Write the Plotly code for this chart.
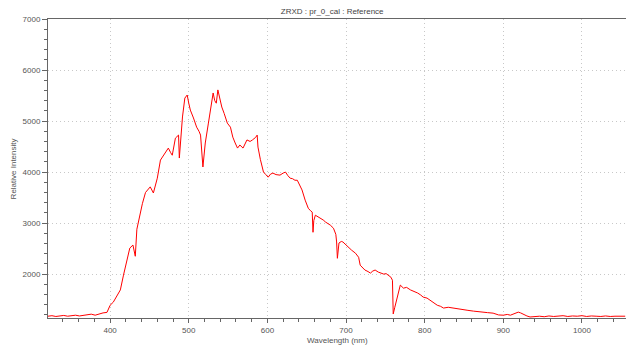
import plotly.graph_objects as go

title_text = "ZRXD : pr_0_cal : Reference"
x_title = "Wavelength (nm)"
y_title = "Relative Intensity"

wavelength = [
    321, 326, 331, 336, 341, 346, 351, 356, 361, 366,
    371, 376, 381, 386, 391, 396, 400, 404, 408, 413,
    417, 421, 425, 429, 432, 434, 438, 441, 445, 448,
    451, 455, 458, 460, 464, 467, 470, 474, 477, 479,
    483, 487, 488, 490, 492, 495, 498, 500, 502, 506,
    510, 513, 515, 518, 521, 525, 527, 531, 533, 535,
    537, 540, 542, 545, 549, 553, 556, 559, 562, 565,
    569, 574, 578, 581, 585, 587, 588, 591, 593, 595,
    598, 601, 604, 607, 611, 616, 620, 623, 626, 629,
    632, 635, 638, 642, 644, 648, 652, 655, 657, 658,
    659, 661, 664, 667, 671, 674, 677, 680, 684, 687,
    688, 689, 691, 694, 696, 700, 703, 707, 712, 716,
    718, 721, 724, 728, 731, 734, 737, 741, 744, 748,
    751, 754, 757, 759, 760, 762, 764, 767, 769, 773,
    777, 782, 786, 791, 795, 798, 803, 807, 811, 816,
    820, 824, 830, 836, 842, 849, 855, 862, 868, 874,
    880, 887, 894, 900, 905, 909, 914, 919, 922, 925,
    930, 934, 940, 946, 952, 958, 964, 970, 976, 982,
    988, 994, 1000, 1006, 1012, 1018, 1024, 1030, 1036, 1042,
    1048, 1055,
]

intensity = [
    1175, 1185, 1170, 1180, 1190, 1175, 1185, 1195, 1180, 1190,
    1200, 1215, 1195, 1225, 1240, 1250, 1390, 1450, 1560, 1690,
    1980, 2275, 2510, 2570, 2350, 2880, 3210, 3380, 3600, 3660,
    3710, 3590, 3800, 3880, 4235, 4300, 4390, 4470, 4380, 4330,
    4665, 4725, 4275, 4800, 5080, 5450, 5510, 5350, 5215, 5060,
    4880, 4800, 4725, 4100, 4570, 4960, 5160, 5550, 5400, 5350,
    5610, 5420, 5275, 5150, 4960, 4880, 4685, 4570, 4470, 4530,
    4470, 4630, 4600, 4630, 4680, 4725, 4490, 4250, 4100, 4000,
    3950, 3900, 3960, 3980, 3950, 3940, 3980, 4000, 3930, 3880,
    3870, 3840, 3840, 3690, 3650, 3450, 3290, 3240, 3215, 2820,
    3050, 3155, 3130, 3100, 3060, 3020, 2990, 2960, 2900, 2780,
    2630, 2310, 2610, 2640, 2630, 2570, 2510, 2470, 2410, 2330,
    2175, 2120, 2080, 2050, 2020, 2060, 2080, 2040, 2020, 2000,
    2010, 1980, 1940, 1880, 1220, 1350, 1490, 1700, 1785, 1725,
    1740, 1690, 1670, 1630, 1590, 1550, 1530, 1490, 1450, 1390,
    1370, 1335, 1350, 1335, 1310, 1295, 1290, 1275, 1270, 1255,
    1245, 1235, 1200, 1195, 1210, 1195, 1230, 1255, 1240, 1215,
    1180, 1160, 1170, 1175, 1165, 1180, 1170, 1175, 1185, 1170,
    1180, 1175, 1185, 1170, 1180, 1175, 1170, 1180, 1170, 1175,
    1170, 1175,
]

x_ticks = [400, 500, 600, 700, 800, 900, 1000]
y_ticks = [2000, 3000, 4000, 5000, 6000, 7000]

font_family = "Liberation Sans, Arial, sans-serif"
axis_col = "#666666"
text_col = "#555555"
grid_col = "#c8c8c8"

fig = go.Figure()
fig.add_trace(go.Scatter(
    x=wavelength, y=intensity, mode="lines",
    line=dict(color="#ff0000", width=1),
    hoverinfo="skip", showlegend=False,
))

fig.update_layout(
    width=628, height=345,
    margin=dict(l=48, r=2, t=19, b=27, autoexpand=False),
    paper_bgcolor="white", plot_bgcolor="white",
    font=dict(family=font_family, size=8, color=text_col),
    hovermode=False,
    title=dict(text=title_text, x=0.529, xanchor="center", y=0.968, yanchor="middle",
               font=dict(size=8, color="#444444")),
    annotations=[
        dict(text=x_title, xref="paper", yref="paper", x=0.5, y=-0.074,
             xanchor="center", yanchor="middle", showarrow=False,
             font=dict(size=8, color=text_col)),
        dict(text=y_title, xref="paper", yref="paper", x=-0.059, y=0.5,
             xanchor="center", yanchor="middle", textangle=-90, showarrow=False,
             font=dict(size=8, color=text_col)),
    ],
)

fig.update_xaxes(
    range=[321, 1056], automargin=False,
    tickvals=x_ticks,
    ticks="outside", ticklen=4, tickcolor=axis_col, tickwidth=1,
    showline=True, linecolor=axis_col, linewidth=1, mirror=True,
    showgrid=True, gridcolor=grid_col, griddash="1px,3px", gridwidth=1,
    zeroline=False,
    minor=dict(dtick=20, tick0=400, ticks="outside", ticklen=3, tickcolor=axis_col, showgrid=False),
    tickfont=dict(size=8, color=text_col),
)
fig.update_yaxes(
    range=[1140, 7000], automargin=False,
    tickvals=y_ticks,
    ticks="outside", ticklen=5, tickcolor=axis_col, tickwidth=1,
    showline=True, linecolor=axis_col, linewidth=1,
    showgrid=True, gridcolor=grid_col, griddash="1px,3px", gridwidth=1,
    zeroline=False,
    minor=dict(dtick=200, tick0=2000, ticks="outside", ticklen=3, tickcolor=axis_col, showgrid=False),
    tickfont=dict(size=8, color=text_col),
)

fig.write_html("out.html", config={"displayModeBar": False},
               post_script="document.body.style.margin='0';")
